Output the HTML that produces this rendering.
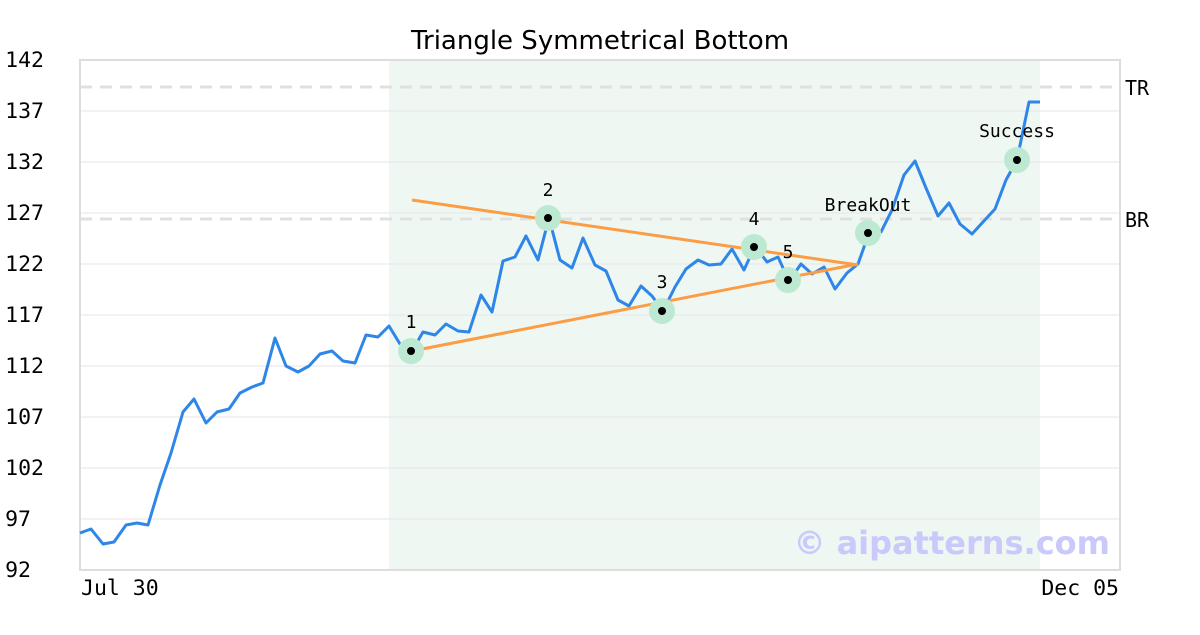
<!DOCTYPE html>
<html><head><meta charset="utf-8"><style>
body{margin:0;background:#fff;}
svg text{font-family:"DejaVu Sans Mono","Liberation Mono",monospace;}
</style></head><body>
<svg width="1200" height="630" viewBox="0 0 1200 630" xmlns="http://www.w3.org/2000/svg">
<rect width="1200" height="630" fill="#fff"/>
<rect x="389" y="60" width="651" height="510" fill="#eff7f3"/>
<g stroke="#e6e6e6" stroke-width="1">
<line x1="80" x2="1120" y1="111" y2="111"/><line x1="80" x2="1120" y1="162" y2="162"/>
<line x1="80" x2="1120" y1="213" y2="213"/><line x1="80" x2="1120" y1="264" y2="264"/>
<line x1="80" x2="1120" y1="315" y2="315"/><line x1="80" x2="1120" y1="366" y2="366"/>
<line x1="80" x2="1120" y1="417" y2="417"/><line x1="80" x2="1120" y1="468" y2="468"/>
<line x1="80" x2="1120" y1="519" y2="519"/>
</g>
<g stroke="#e0e0e0" stroke-width="3" stroke-dasharray="12,8">
<line x1="80" x2="1120" y1="87" y2="87"/><line x1="80" x2="1120" y1="219" y2="219"/>
</g>
<rect x="80" y="60" width="1040" height="510" fill="none" stroke="#dddddd" stroke-width="2"/>
<text x="1125" y="95" font-size="20" fill="#000">TR</text>
<text x="1125" y="227" font-size="20" fill="#000">BR</text>
<text x="600" y="49" font-size="26" text-anchor="middle" style="font-family:'DejaVu Sans','Liberation Sans',sans-serif">Triangle Symmetrical Bottom</text>
<g font-size="21.5" fill="#000" text-anchor="end">
<text x="44" y="67">142</text><text x="44" y="118">137</text><text x="44" y="169">132</text>
<text x="44" y="220">127</text><text x="44" y="271">122</text><text x="44" y="322">117</text>
<text x="44" y="373">112</text><text x="44" y="424">107</text><text x="44" y="475">102</text>
<text x="31" y="526">97</text><text x="31" y="577">92</text>
</g>
<text x="81" y="595" font-size="21.5">Jul 30</text>
<text x="1119" y="595" font-size="21.5" text-anchor="end">Dec 05</text>
<text x="1110" y="554" font-size="32" font-weight="bold" fill="#c9c9fb" text-anchor="end" style="font-family:'DejaVu Sans','Liberation Sans',sans-serif">© aipatterns.com</text>
<polyline fill="none" stroke="#2e86e8" stroke-width="3" stroke-linejoin="round" points="80,533 91,529 103,544 114,542 126,525 137,523 148,525 160,485 171,453 183,412 194,399 206,423 217,412 229,409 240,393 252,387 263,383 275,338 286,366 298,372 309,366 320,354 332,351 343,361 355,363 366,335 378,337 389,326 400,344 412,351 423,332 435,335 446,324 458,331 469,332 481,295 492,312 503,261 515,257 526,236 538,260 549,218 560,260 572,268 583,238 595,265 606,271 618,300 629,306 641,286 652,296 663,311 675,287 686,269 698,260 709,265 721,264 732,249 744,270 755,246 767,262 778,257 789,281 801,264 812,274 824,267 835,289 847,273 858,264 869,233 881,232 892,210 904,175 915,161 926,188 938,216 949,203 960,224 972,234 983,222 995,209 1006,180 1017,160 1029,102 1040,102"/>
<g stroke="#fb9d44" stroke-width="3">
<line x1="412" y1="200" x2="858" y2="265"/><line x1="412" y1="351" x2="858" y2="264"/>
</g>
<g fill="#000" stroke="#bde9d3" stroke-width="9">
<circle cx="411" cy="351" r="8.5"/><circle cx="548" cy="218" r="8.5"/><circle cx="662" cy="311" r="8.5"/>
<circle cx="754" cy="247" r="8.5"/><circle cx="788" cy="280" r="8.5"/><circle cx="868" cy="233" r="8.5"/>
<circle cx="1017" cy="160" r="8.5"/>
</g>
<g font-size="18" text-anchor="middle">
<text x="411" y="328">1</text><text x="548" y="196">2</text><text x="662" y="288">3</text>
<text x="754" y="225">4</text><text x="788" y="258">5</text><text x="868" y="211">BreakOut</text>
<text x="1017" y="137">Success</text>
</g>
</svg>
</body></html>
